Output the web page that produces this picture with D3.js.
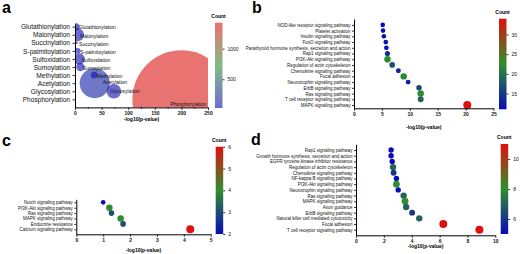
<!DOCTYPE html>
<html>
<head>
<meta charset="utf-8">
<script src="https://cdn.jsdelivr.net/npm/d3@7/dist/d3.min.js"></script>
<style>
  body { margin: 0; background: #fff; }
  svg { display: block; font-family: "Liberation Sans", Arial, sans-serif; }
</style>
</head>
<body>
<div id="chart"></div>
<script>
// panel a - modification types
const aTypes = ["Glutathionylation", "Malonylation", "Succinylation", "S-palmitoylation", "Sulfoxidation",
  "Sumoylation", "Methylation", "Acetylation", "Glycosylation", "Phosphorylation"];
const aLogP = [2, 5, 3, 5, 8, 10, 36, 37, 73, 200];
const aCount = [7, 24, 1, 5, 18, 10, 7, 131, 31, 1400];
const aXTicks = [0, 50, 100, 150, 200, 250];
const aCountTicks = [500, 1000];

// panel b
const bPathways = ["NOD-like receptor signaling pathway", "Platelet activation", "Insulin signaling pathway",
  "FoxO signaling pathway", "Parathyroid hormone synthesis, secretion and action", "Rap1 signaling pathway",
  "PI3K-Akt signaling pathway", "Regulation of actin cytoskeleton", "Chemokine signaling pathway",
  "Focal adhesion", "Neurotrophin signaling pathway", "ErbB signaling pathway", "Ras signaling pathway",
  "T cell receptor signaling pathway", "MAPK signaling pathway"];
const bLogP = [5.15, 5.2, 5.35, 5.7, 5.8, 6.0, 6.0, 6.85, 7.95, 8.9, 9.7, 11.65, 11.95, 11.95, 20.3];
const bCount = [11, 11, 11, 12, 12, 14, 22, 17, 13, 22, 13, 16, 22, 19, 34];
const bXTicks = [0, 5, 10, 15, 20, 25];
const bCountTicks = [15, 20, 25, 30];

// panel c
const cPathways = ["Notch signaling pathway", "PI3K-Akt signaling pathway", "Ras signaling pathway",
  "MAPK signaling pathway", "Endocrine resistance", "Calcium signaling pathway"];
const cLogP = [1.0, 1.23, 1.31, 1.65, 1.74, 4.24];
const cCount = [2, 4, 3, 4, 3, 6];
const cXTicks = [0, 1, 2, 3, 4, 5];
const cCountTicks = [2, 3, 4, 5, 6];

// panel d
const dPathways = ["Rap1 signaling pathway", "Growth hormone synthesis, secretion and action",
  "EGFR tyrosine kinase inhibitor resistance", "Regulation of actin cytoskeleton", "Chemokine signaling pathway",
  "NF-kappa B signaling pathway", "PI3K-Akt signaling pathway", "Neurotrophin signaling pathway",
  "Ras signaling pathway", "MAPK signaling pathway", "Axon guidance", "ErbB signaling pathway",
  "Natural killer cell mediated cytotoxicity", "Focal adhesion", "T cell receptor signaling pathway"];
const dLogP = [2.52, 2.52, 2.6, 2.66, 2.7, 2.9, 2.9, 3.03, 3.42, 3.52, 3.6, 4.03, 4.54, 6.27, 8.86];
const dCount = [5, 5, 5, 7, 6, 5, 8, 5, 7, 8, 7, 6, 7, 11, 11];
const dXTicks = [0, 2, 4, 6, 8, 10];
const dCountTicks = [6, 8, 10];

const W = 520, H = 254;
const RAMP = ["#0a0ab4", "#2f8f2f", "#e01010"];

const svg = d3.select("#chart").append("svg")
  .attr("width", W)
  .attr("height", H);

function colourScale(lo, hi) {
  return d3.scaleLinear().domain([lo, (lo + hi) / 2, hi]).range(RAMP);
}

function styleAxis(g, size, bold) {
  g.select(".domain").attr("stroke", "#000").attr("stroke-width", 1);
  g.selectAll(".tick line").attr("stroke", "#000").attr("stroke-width", 0.8);
  g.selectAll(".tick text")
    .attr("font-size", size)
    .attr("font-weight", bold ? "bold" : "normal")
    .attr("fill", "#111");
}

// vertical colour bar with its own scale
function colourBar(opts) {
  const { id, x, y0, y1, lo, hi, ticks, opacity } = opts;
  const col = colourScale(lo, hi);
  const grad = svg.append("defs").append("linearGradient")
    .attr("id", id)
    .attr("x1", 0).attr("y1", 1).attr("x2", 0).attr("y2", 0);
  d3.range(0, 1.0001, 0.1).forEach(t => {
    grad.append("stop")
      .attr("offset", t)
      .attr("stop-color", col(lo + t * (hi - lo)));
  });
  svg.append("rect")
    .attr("x", x).attr("y", y0)
    .attr("width", 7.5).attr("height", y1 - y0)
    .attr("fill", "url(#" + id + ")")
    .attr("opacity", opacity || 1);
  const s = d3.scaleLinear().domain([lo, hi]).range([y1, y0]);
  const ax = svg.append("g")
    .attr("transform", "translate(" + (x + 7.5) + ",0)")
    .call(d3.axisRight(s).tickValues(ticks).tickFormat(d3.format("d")).tickSize(2).tickPadding(3));
  styleAxis(ax, 5, false);
  ax.select(".domain").remove();
  svg.append("text")
    .attr("x", x + 3.5).attr("y", y0 - 5)
    .attr("text-anchor", "middle")
    .attr("font-size", 5)
    .attr("font-weight", "bold")
    .text("Count");
}

function panelLetter(t, x, y) {
  svg.append("text")
    .attr("x", x).attr("y", y)
    .attr("font-size", 16)
    .attr("font-weight", "bold")
    .text(t);
}

// ---------- panel a : bubbles ----------
const xa = d3.scaleLinear().domain([0, 250]).range([75, 208]);
const ya = d3.scaleLinear().domain([0, 10.33]).range([107.4, 24]);
const ra = d3.scaleSqrt().domain([0, 1400]).range([0, 49]);
const ca = colourScale(30, 1425);
const aRows = aTypes.map((t, i) => ({ name: t, pos: aTypes.length - i, x: aLogP[i], n: aCount[i] }));

svg.append("defs").append("clipPath").attr("id", "clipA")
  .append("rect")
  .attr("x", xa(0)).attr("y", 10)
  .attr("width", xa(250) - xa(0)).attr("height", ya(0) - 10);

svg.append("g").attr("clip-path", "url(#clipA)")
  .selectAll("circle")
  .data(aRows)
  .join("circle")
  .attr("cx", d => xa(d.x))
  .attr("cy", d => ya(d.pos))
  .attr("r", d => ra(d.n))
  .attr("fill", d => ca(d.n))
  .attr("fill-opacity", 0.6);

// bubble labels, nudged a little where they collide
const labelShift = { Acetylation: [8, -1], Glycosylation: [-4, 0.5], Phosphorylation: [-11, 5.5] };
svg.append("g")
  .selectAll("text")
  .data(aRows)
  .join("text")
  .attr("x", d => xa(d.x) + (labelShift[d.name] ? labelShift[d.name][0] : 2.5))
  .attr("y", d => ya(d.pos) + (labelShift[d.name] ? labelShift[d.name][1] : 1.5))
  .attr("dominant-baseline", "middle")
  .attr("font-size", 5)
  .attr("fill", "#111")
  .text(d => d.name);

const axYa = svg.append("g")
  .attr("transform", "translate(" + xa(0) + ",0)")
  .call(d3.axisLeft(ya)
    .tickValues(aRows.map(d => d.pos))
    .tickFormat(p => aTypes[aTypes.length - p])
    .tickSize(2.5).tickPadding(2.5).tickSizeOuter(0));
styleAxis(axYa, 6.6, false);

const axXa = svg.append("g")
  .attr("transform", "translate(0," + ya(0) + ")")
  .call(d3.axisBottom(xa).tickValues(aXTicks).tickFormat(d3.format("d"))
    .tickSize(2.5).tickPadding(1.5).tickSizeOuter(0));
styleAxis(axXa, 5, true);
svg.append("g")
  .attr("transform", "translate(0," + ya(0) + ")")
  .selectAll("line")
  .data(d3.range(25, 250, 50))
  .join("line")
  .attr("x1", d => xa(d)).attr("x2", d => xa(d))
  .attr("y1", 0).attr("y2", 1.5)
  .attr("stroke", "#000").attr("stroke-width", 0.8);

svg.append("text")
  .attr("x", (xa(0) + xa(250)) / 2).attr("y", 121)
  .attr("text-anchor", "middle")
  .attr("font-size", 5)
  .attr("font-weight", "bold")
  .text("-log10(p-value)");

colourBar({ id: "gA", x: 215, y0: 22.7, y1: 108, lo: 30, hi: 1425, ticks: aCountTicks, opacity: 0.6 });

// ---------- panels b, c, d : dot plots ----------
function dotPanel(p) {
  const x = d3.scaleLinear().domain([0, p.xMax]).range([p.x0, p.x1]);
  const y = d3.scaleLinear().domain(p.dom).range([p.yBottom, p.yTop]);
  const n = p.names.length;
  const col = colourScale(p.cLo, p.cHi);
  const r = d3.scaleSqrt().domain([0, p.cHi]).range([0, 4]);
  const rows = p.names.map((name, i) => ({ name, pos: n - 1 - i, x: p.logP[i], c: p.count[i] }));

  svg.append("g")
    .selectAll("circle")
    .data(rows)
    .join("circle")
    .attr("cx", d => x(d.x))
    .attr("cy", d => y(d.pos))
    .attr("r", d => r(d.c))
    .attr("fill", d => col(d.c));

  const ay = svg.append("g")
    .attr("transform", "translate(" + p.x0 + ",0)")
    .call(d3.axisLeft(y)
      .tickValues(rows.map(d => d.pos))
      .tickFormat(v => p.names[n - 1 - v])
      .tickSize(2).tickPadding(1.5).tickSizeOuter(0));
  styleAxis(ay, 4.5, false);

  const ax = svg.append("g")
    .attr("transform", "translate(0," + p.yBottom + ")")
    .call(d3.axisBottom(x).tickValues(p.xTicks).tickFormat(d3.format("d"))
      .tickSize(2.5).tickPadding(1.5).tickSizeOuter(0));
  styleAxis(ax, 5, true);

  svg.append("text")
    .attr("x", (p.x0 + p.x1) / 2).attr("y", p.titleY)
    .attr("text-anchor", "middle")
    .attr("font-size", 5)
    .attr("font-weight", "bold")
    .text("-log10(p-value)");

  colourBar({ id: p.id, x: p.barX, y0: p.barTop, y1: p.barBottom, lo: p.cLo, hi: p.cHi, ticks: p.cTicks });
}

dotPanel({
  id: "gB", names: bPathways, logP: bLogP, count: bCount, xTicks: bXTicks, cTicks: bCountTicks,
  xMax: 25, x0: 354, x1: 493.5, yBottom: 108.3, yTop: 19, dom: [-0.577, 15.03],
  cLo: 11, cHi: 34, barX: 499, barTop: 18.7, barBottom: 109.3, titleY: 129
});

dotPanel({
  id: "gC", names: cPathways, logP: cLogP, count: cCount, xTicks: cXTicks, cTicks: cCountTicks,
  xMax: 5, x0: 76.3, x1: 210.7, yBottom: 234.3, yTop: 199.3, dom: [-0.93, 5.56],
  cLo: 2, cHi: 6, barX: 215.7, barTop: 146.7, barBottom: 234, titleY: 252
});

dotPanel({
  id: "gD", names: dPathways, logP: dLogP, count: dCount, xTicks: dXTicks, cTicks: dCountTicks,
  xMax: 10, x0: 356, x1: 495.3, yBottom: 235.3, yTop: 144.3, dom: [-0.98, 15.01],
  cLo: 5, cHi: 11, barX: 500.7, barTop: 144, barBottom: 234, titleY: 248
});

panelLetter("a", 2, 13);
panelLetter("b", 252, 13);
panelLetter("c", 2, 146);
panelLetter("d", 251, 145);
</script>
</body>
</html>
